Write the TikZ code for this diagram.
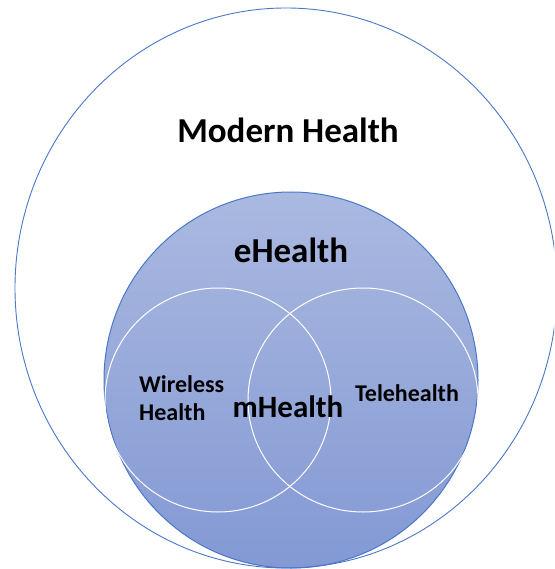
\documentclass[tikz,border=0pt]{standalone}
\usepackage{fontspec}
\setmainfont{Carlito}
\definecolor{ringblue}{HTML}{4A78C8}
\definecolor{filltop}{HTML}{AAB9E0}
\definecolor{fillbot}{HTML}{8399D4}
\tikzset{
  lbl/.style={font=\bfseries, text=black, inner sep=0pt, anchor=base},
}
\begin{document}
\begin{tikzpicture}[x=1pt,y=-1pt]
\useasboundingbox (0,0) rectangle (554,569);
\clip (0,0) rectangle (554,569);
% eHealth filled circle
\shade[top color=filltop, bottom color=fillbot, draw=ringblue, line width=1pt]
  (291,380) ellipse [x radius=187, y radius=188];
% white Venn circles
\draw[white, line width=1pt] (218,400) ellipse [x radius=113, y radius=112];
\draw[white, line width=1pt] (363,400) ellipse [x radius=115, y radius=112];
% outer Modern Health circle
\draw[ringblue, line width=0.9pt] (286,288) ellipse [x radius=271, y radius=280];
% labels
\node[lbl, font=\fontsize{35}{40}\selectfont\bfseries] (modern) at (288,143) {Modern Health};
\node[lbl, font=\fontsize{35}{40}\selectfont\bfseries] (ehealth) at (291,262) {eHealth};
\node[lbl, font=\fontsize{31}{36}\selectfont\bfseries] (mhealth) at (288,417) {mHealth};
\node[lbl, anchor=base west, align=left, font=\fontsize{24}{28}\selectfont\bfseries] (wireless) at (139,420) {Wireless\\Health};
\node[lbl, font=\fontsize{24}{28}\selectfont\bfseries] (tele) at (407,401) {Telehealth};
\end{tikzpicture}
\end{document}
